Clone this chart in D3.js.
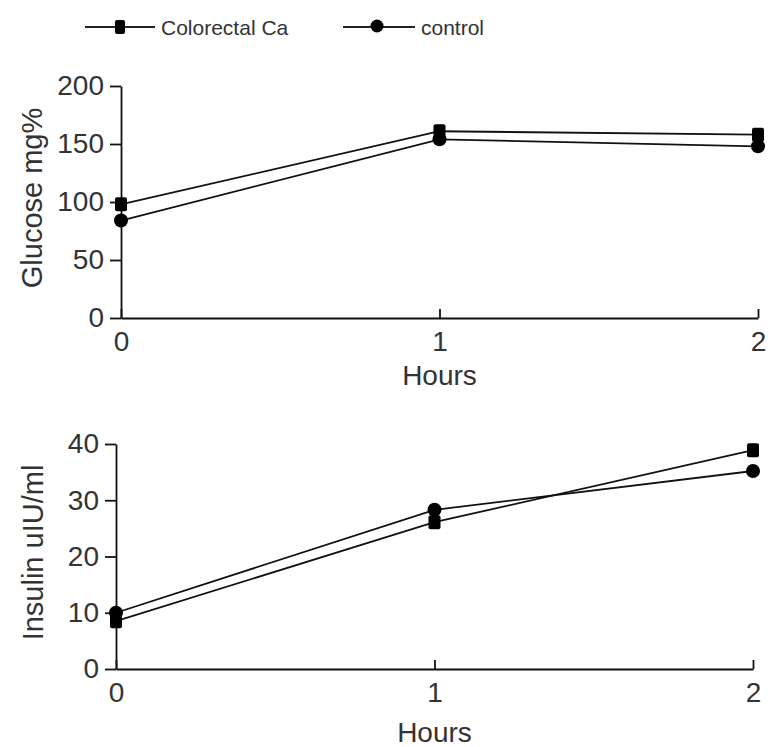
<!DOCTYPE html>
<html>
<head>
<meta charset="utf-8">
<script src="https://cdn.jsdelivr.net/npm/d3@7"></script>
<style>
  body { margin: 0; background: #fff; }
  svg { display: block; }
  text { font-family: "Liberation Sans", Arial, sans-serif; fill: #333; }
</style>
</head>
<body>
<svg id="chart" width="768" height="747"></svg>
<script>
// data
var hours = [0, 1, 2];
var seriesNames = ["Colorectal Ca", "control"];
var glucoseColorectal = [98, 161, 158];
var glucoseControl = [84, 154, 148];
var insulinColorectal = [8.5, 26.1, 38.9];
var insulinControl = [10, 28.3, 35.2];
var glucoseTicks = [0, 50, 100, 150, 200];
var insulinTicks = [0, 10, 20, 30, 40];

var svg = d3.select("#chart");

function drawPanel(opts) {
    var x = d3.scaleLinear().domain([0, 2]).range([opts.left, opts.right]);
    var y = d3.scaleLinear().domain(opts.yDomain).range([opts.bottom, opts.top]);
    var g = svg.append("g");

    var yAxis = g.append("g")
        .attr("transform", "translate(" + opts.left + ",0)")
        .call(d3.axisLeft(y).tickValues(opts.ticks).tickSize(11).tickSizeOuter(0).tickPadding(6));
    var xAxis = g.append("g")
        .attr("transform", "translate(0," + opts.bottom + ")")
        .call(d3.axisBottom(x).tickValues(hours).tickFormat(d3.format("d")).tickSize(-9).tickSizeOuter(0).tickPadding(13));
    [yAxis, xAxis].forEach(function (a) {
        a.selectAll("path, line").attr("stroke", "#111").attr("stroke-width", 1.8);
        a.selectAll("text").attr("font-size", 28).attr("fill", "#333")
            .attr("font-family", "'Liberation Sans', Arial, sans-serif");
    });

    g.append("text")
        .attr("transform", "translate(" + opts.titleX + "," + ((opts.top + opts.bottom) / 2 - 4) + ") rotate(-90)")
        .attr("text-anchor", "middle")
        .attr("font-size", 29)
        .text(opts.yTitle);
    g.append("text")
        .attr("x", x(1))
        .attr("y", opts.bottom + opts.hoursGap)
        .attr("text-anchor", "middle")
        .attr("font-size", 28)
        .text("Hours");

    var line = d3.line().x(function (d, i) { return x(hours[i]); }).y(function (d) { return y(d); });
    [opts.colorectal, opts.control].forEach(function (vals) {
        g.append("path").datum(vals).attr("d", line)
            .attr("fill", "none").attr("stroke", "#111").attr("stroke-width", 1.8);
    });
    g.selectAll(".sq").data(opts.colorectal).enter().append("rect")
        .attr("x", function (d, i) { return x(hours[i]) - 6; })
        .attr("y", function (d) { return y(d) - 7; })
        .attr("width", 12).attr("height", 14).attr("rx", 2)
        .attr("fill", "#000");
    g.selectAll(".ci").data(opts.control).enter().append("circle")
        .attr("cx", function (d, i) { return x(hours[i]); })
        .attr("cy", function (d) { return y(d); })
        .attr("r", 7)
        .attr("fill", "#000");
}

drawPanel({
    left: 121, right: 758, top: 86, bottom: 318, hoursGap: 67,
    yDomain: [0, 200], ticks: glucoseTicks, yTitle: "Glucose mg%", titleX: 42,
    colorectal: glucoseColorectal, control: glucoseControl
});
drawPanel({
    left: 116, right: 753, top: 444, bottom: 669, hoursGap: 73,
    yDomain: [0, 40], ticks: insulinTicks, yTitle: "Insulin uIU/ml", titleX: 43,
    colorectal: insulinColorectal, control: insulinControl
});

// legend
var legend = svg.append("g");
var legendItems = [
    { name: seriesNames[0], x0: 85, x1: 155, mark: "square" },
    { name: seriesNames[1], x0: 343, x1: 415, mark: "circle" }
];
legendItems.forEach(function (d) {
    var cx = (d.x0 + d.x1) / 2;
    legend.append("line").attr("x1", d.x0).attr("x2", d.x1).attr("y1", 27).attr("y2", 27)
        .attr("stroke", "#222").attr("stroke-width", 2);
    if (d.mark === "square") {
        legend.append("rect").attr("x", cx - 5).attr("y", 20).attr("width", 10).attr("height", 14)
            .attr("rx", 2).attr("fill", "#000");
    } else {
        legend.append("circle").attr("cx", cx - 2).attr("cy", 26).attr("r", 6.5).attr("fill", "#000");
    }
    legend.append("text").attr("x", d.x1 + 6).attr("y", 35).attr("font-size", 21).text(d.name);
});
</script>
</body>
</html>
